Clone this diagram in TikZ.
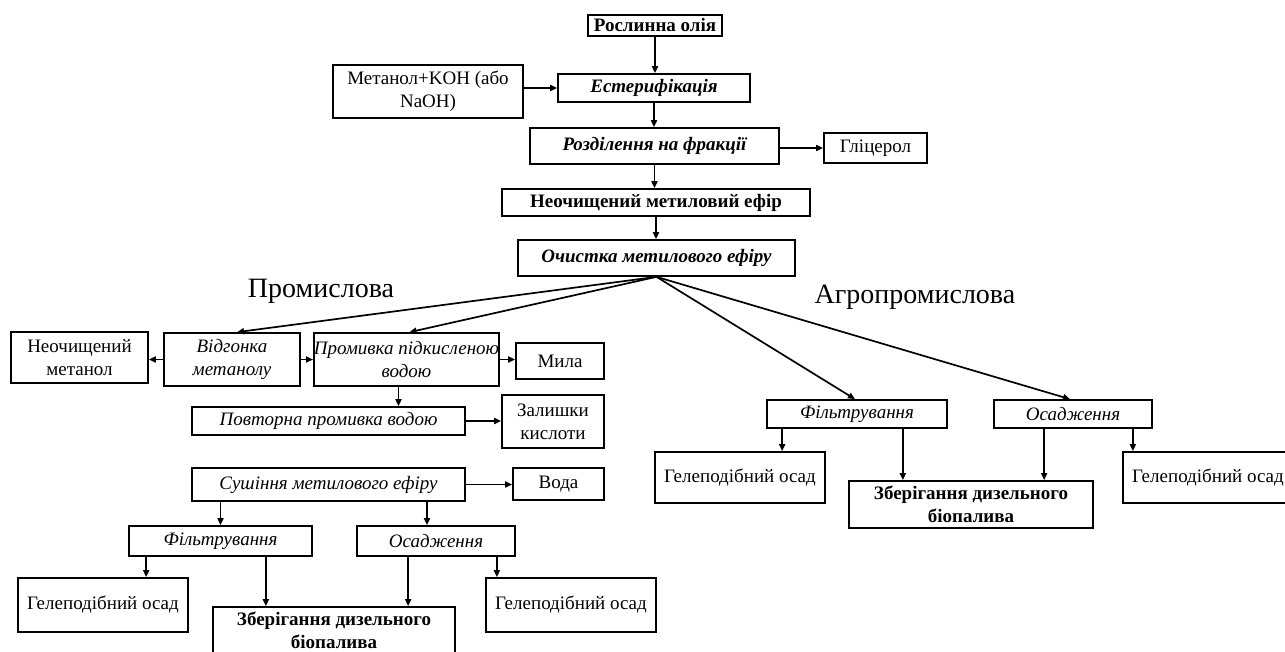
\documentclass[tikz,border=0pt]{standalone}
\usepackage{fontspec}
\setmainfont{Liberation Serif}
\usetikzlibrary{arrows.meta}
\begin{document}
\begin{tikzpicture}[x=1pt,y=-1pt,
  box/.style={draw,line width=1.7pt,inner sep=0pt,align=center,font=\fontsize{19}{23}\selectfont},
  bbox/.style={box,font=\fontsize{19}{23}\selectfont\bfseries},
  ibox/.style={box,font=\fontsize{19}{23}\selectfont\itshape},
  bibox/.style={box,font=\fontsize{19}{23}\selectfont\bfseries\itshape},
  lbl/.style={font=\fontsize{28}{32}\selectfont},
  arr/.style={line width=1.7pt,-{Triangle[length=7pt,width=6pt]}}]
\useasboundingbox (0,0) rectangle (1285,652);
\node[bbox,minimum width=134,minimum height=21] (oil) at (655,25.5) {Рослинна олія};
\node[box,minimum width=190,minimum height=53] (meth) at (428,91.5) {Метанол+KOH (або\\NaOH)};
\node[bibox,minimum width=192,minimum height=28] (ester) at (654,88) {Естерифікація};
\node[bibox,minimum width=249,minimum height=36] (sep) at (654.5,146) {Розділення на фракції};
\node[box,minimum width=103,minimum height=30] (glyc) at (875.5,148) {Гліцерол};
\node[bbox,minimum width=308,minimum height=27] (crude) at (656,202.5) {Неочищений метиловий ефір};
\node[bibox,minimum width=277,minimum height=36] (clean) at (656.5,258) {Очистка метилового ефіру};
\node[lbl] (ind) at (321,291) {Промислова};
\node[lbl] (agro) at (915,297) {Агропромислова};
\node[box,minimum width=137,minimum height=51] (crmeth) at (79.5,357.5) {Неочищений\\метанол};
\node[ibox,minimum width=136,minimum height=53] (distil) at (232,359.5) {Відгонка\\метанолу};
\node[ibox,minimum width=183,minimum height=53] (wash) at (406.5,359.5) {Промивка підкисленою\\водою};
\node[box,minimum width=88,minimum height=36] (soap) at (560,361) {Мила};
\node[ibox,minimum width=273,minimum height=28] (rewash) at (328.5,421) {Повторна промивка водою};
\node[box,minimum width=102,minimum height=53] (acid) at (553,421.5) {Залишки\\кислоти};
\node[ibox,minimum width=273,minimum height=33] (dry) at (328.5,484.5) {Сушіння метилового ефіру};
\node[box,minimum width=91,minimum height=32] (water) at (558.5,484) {Вода};
\node[ibox,minimum width=183,minimum height=30] (filtI) at (220.5,541) {Фільтрування};
\node[ibox,minimum width=158,minimum height=30] (sedI) at (436,541) {Осадження};
\node[box,minimum width=170,minimum height=54] (gelI) at (103,605) {Гелеподібний осад};
\node[bbox,minimum width=242,minimum height=47] (storeI) at (334,630.5) {Зберігання дизельного\\біопалива};
\node[box,minimum width=170,minimum height=54] (gelII) at (571,605) {Гелеподібний осад};
\node[ibox,minimum width=180,minimum height=28] (filtA) at (857,414) {Фільтрування};
\node[ibox,minimum width=158,minimum height=28] (sedA) at (1073,414) {Осадження};
\node[box,minimum width=170,minimum height=51] (gelA) at (740,477.5) {Гелеподібний осад};
\node[bbox,minimum width=244,minimum height=47] (storeA) at (971,504.5) {Зберігання дизельного\\біопалива};
\node[box,minimum width=170,minimum height=51] (gelB) at (1208,477.5) {Гелеподібний осад};
\draw[arr] (oil.south) -- (oil.south |- ester.north);
\draw[arr] (meth.east |- ester.west) -- (ester.west);
\draw[arr] (ester.south) -- (ester.south |- sep.north);
\draw[arr] (sep.east |- glyc.west) -- (glyc.west);
\draw[arr] (sep.south) -- (sep.south |- crude.north);
\draw[arr] (crude.south) -- (crude.south |- clean.north);
\draw[arr] (clean.south) -- ([xshift=5pt]distil.north);
\draw[arr] (clean.south) -- ([xshift=3pt]wash.north);
\draw[arr] (clean.south) -- ([xshift=-2pt]filtA.north);
\draw[arr] (clean.south) -- ([xshift=-3pt]sedA.north);
\draw[arr] (distil.west) -- (distil.west -| crmeth.east);
\draw[arr] (distil.east) -- (distil.east -| wash.west);
\draw[arr] (wash.east) -- (wash.east -| soap.west);
\draw[arr] ([xshift=-8pt]wash.south) -- ([xshift=-8pt]wash.south |- rewash.north);
\draw[arr] (rewash.east) -- (rewash.east -| acid.west);
\draw[arr] (dry.east) -- (dry.east -| water.west);
\draw[arr] (filtI.north |- dry.south) -- (filtI.north);
\draw[arr] ([xshift=-9pt]sedI.north |- dry.south) -- ([xshift=-9pt]sedI.north);
\draw[arr] ([xshift=18pt]filtI.south west) -- ([xshift=18pt]filtI.south west |- gelI.north);
\draw[arr] ([xshift=-47pt]filtI.south east) -- ([xshift=-47pt]filtI.south east |- storeI.north);
\draw[arr] ([xshift=52pt]sedI.south west) -- ([xshift=52pt]sedI.south west |- storeI.north);
\draw[arr] ([xshift=-19pt]sedI.south east) -- ([xshift=-19pt]sedI.south east |- gelII.north);
\draw[arr] ([xshift=16pt]filtA.south west) -- ([xshift=16pt]filtA.south west |- gelA.north);
\draw[arr] ([xshift=-45pt]filtA.south east) -- ([xshift=-45pt]filtA.south east |- storeA.north);
\draw[arr] ([xshift=51pt]sedA.south west) -- ([xshift=51pt]sedA.south west |- storeA.north);
\draw[arr] ([xshift=-20pt]sedA.south east) -- ([xshift=-20pt]sedA.south east |- gelB.north);
\end{tikzpicture}
\end{document}
